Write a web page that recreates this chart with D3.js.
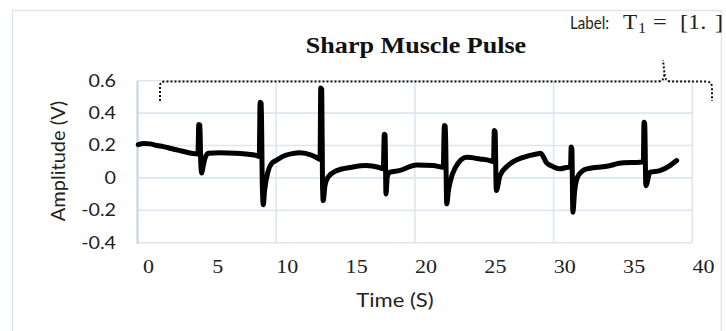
<!DOCTYPE html>
<html>
<head>
<meta charset="utf-8">
<script src="https://cdn.jsdelivr.net/npm/d3@7"></script>
<style>
  html, body { margin: 0; padding: 0; background: #fff; }
  svg { display: block; }
</style>
</head>
<body>
<svg id="chart" width="726" height="331"></svg>
<script>
const svg = d3.select("#chart");

// EMG trace, seconds / volts
const timeS = [
  -0.70, -0.30, 0.14, 0.65, 1.10, 1.73, 2.31, 2.81, 3.26, 3.60,
  3.66, 3.74, 3.80, 3.87, 3.97, 4.12, 4.35, 5.19, 6.27, 7.21, 7.83,
  8.02, 8.08, 8.16, 8.24, 8.31, 8.40, 8.67, 8.92, 9.28, 9.87, 10.40, 10.95, 11.80, 12.27, 12.40,
  12.45, 12.52, 12.58, 12.63, 12.75, 12.99, 13.60, 14.70, 15.70, 16.60, 16.96,
  17.03, 17.09, 17.15, 17.25, 17.44, 18.10, 19.37, 20.56, 21.28,
  21.36, 21.43, 21.53, 21.65, 21.77, 22.13, 22.97, 23.93, 24.65, 24.90,
  24.96, 25.02, 25.10, 25.37, 26.09, 27.05, 28.01, 28.30, 28.73, 29.19, 29.69, 30.29, 30.45,
  30.50, 30.55, 30.62, 30.75, 31.01, 31.62, 33.06, 34.26, 35.46, 35.70,
  35.75, 35.80, 35.88, 36.18, 36.90, 37.62, 38.10
];
const amplitudeV = [
  0.205, 0.212, 0.210, 0.200, 0.193, 0.180, 0.168, 0.158, 0.150, 0.148,
  0.330, 0.325, 0.100, 0.030, 0.070, 0.125, 0.152, 0.155, 0.152, 0.146, 0.138,
  0.132, 0.467, 0.460, -0.050, -0.165, -0.080, 0.045, 0.090, 0.110, 0.138, 0.150, 0.155, 0.140, 0.120, 0.115,
  0.555, 0.548, -0.050, -0.140, -0.050, 0.006, 0.045, 0.066, 0.076, 0.066, 0.056,
  0.270, 0.265, -0.100, 0.010, 0.035, 0.045, 0.080, 0.076, 0.066,
  0.323, 0.318, -0.160, -0.080, -0.027, 0.060, 0.127, 0.117, 0.107, 0.100,
  0.292, 0.285, -0.078, 0.014, 0.086, 0.127, 0.148, 0.152, 0.093, 0.070, 0.056, 0.066, 0.065,
  0.190, 0.180, -0.212, -0.080, 0.014, 0.056, 0.072, 0.093, 0.096, 0.100,
  0.343, 0.335, -0.048, 0.035, 0.045, 0.076, 0.107
];
const xTicks = [0, 5, 10, 15, 20, 25, 30, 35, 40];
const yTicks = [-0.4, -0.2, 0, 0.2, 0.4, 0.6];
const yTickText = ["-0.4", "-0.2", "0", "0.2", "0.4", "0.6"];

const trace = timeS.map((t, i) => ({ t, v: amplitudeV[i] }));

// plot box
const plotLeft = 137.5, plotRight = 692.3, plotTop = 80.7, plotBottom = 242.7;
const stretch = 1.16; // text is drawn a little wide
const sansFont = "Lato, 'Open Sans', sans-serif";
const serifFont = "'Liberation Serif', 'DejaVu Serif', serif";

const x = d3.scaleLinear().domain([0, 40]).range([148, 703]);
const y = d3.scaleLinear().domain([-0.4, 0.6]).range([plotBottom, plotTop]);
const gridX = d3.scaleLinear().domain([0, 4]).range([plotLeft, plotRight]);

// outer chart frame
svg.append("rect")
    .attr("x", 12.5).attr("y", 10.5)
    .attr("width", 709).attr("height", 340)
    .attr("fill", "#fff")
    .attr("stroke", "#dfe5ec")
    .attr("stroke-width", 1.5);

// gridlines
svg.append("g")
    .selectAll("line")
    .data(yTicks)
    .join("line")
    .attr("x1", plotLeft).attr("x2", plotRight)
    .attr("y1", d => y(d)).attr("y2", d => y(d))
    .attr("stroke", "#dde5ee")
    .attr("stroke-width", 1.6);

svg.append("g")
    .selectAll("line")
    .data(d3.range(1, 5))
    .join("line")
    .attr("x1", d => gridX(d)).attr("x2", d => gridX(d))
    .attr("y1", plotTop).attr("y2", plotBottom)
    .attr("stroke", "#dde5ee")
    .attr("stroke-width", 1.6);

// left axis line
svg.append("line")
    .attr("x1", plotLeft).attr("x2", plotLeft)
    .attr("y1", plotTop).attr("y2", plotBottom + 1)
    .attr("stroke", "#c8d5e4")
    .attr("stroke-width", 2.2);

// y tick labels
const yAxis = svg.append("g")
    .attr("transform", "translate(116,0)")
    .call(d3.axisLeft(y).tickValues(yTicks).tickSize(0).tickPadding(0)
        .tickFormat((d, i) => yTickText[i]));
yAxis.select(".domain").remove();
yAxis.selectAll("text")
    .attr("font-family", sansFont)
    .attr("font-size", 17)
    .attr("fill", "#222")
    .attr("transform", `scale(${stretch},1)`);

// x tick labels
const xAxis = svg.append("g")
    .attr("transform", `translate(0,${plotBottom})`)
    .call(d3.axisBottom(x).tickValues(xTicks).tickSize(0).tickPadding(17));
xAxis.select(".domain").remove();
xAxis.selectAll("text")
    .attr("font-family", serifFont)
    .attr("font-size", 19)
    .attr("fill", "#222")
    .attr("transform", `scale(${stretch},1)`)
    .attr("x", 0);

// signal
const line = d3.line()
    .x(d => x(d.t))
    .y(d => y(d.v))
    .curve(d3.curveMonotoneX);

svg.append("path")
    .datum(trace)
    .attr("d", line)
    .attr("fill", "none")
    .attr("stroke", "#000")
    .attr("stroke-width", 5)
    .attr("stroke-linejoin", "round")
    .attr("stroke-linecap", "round");

// titles
svg.append("text")
    .attr("transform", `translate(416,53) scale(${stretch},1)`)
    .attr("text-anchor", "middle")
    .attr("font-family", serifFont)
    .attr("font-weight", "bold")
    .attr("font-size", 22.5)
    .attr("fill", "#111")
    .text("Sharp Muscle Pulse");

svg.append("text")
    .attr("transform", `translate(65,161) rotate(-90)`)
    .attr("text-anchor", "middle")
    .attr("font-family", sansFont)
    .attr("font-size", 20)
    .attr("fill", "#222")
    .text("Amplitude (V)");

svg.append("text")
    .attr("transform", `translate(395,307) scale(${stretch},1)`)
    .attr("text-anchor", "middle")
    .attr("font-family", sansFont)
    .attr("font-size", 19)
    .attr("fill", "#222")
    .text("Time (S)");

// bracket over the trace with its label
svg.append("path")
    .attr("d", "M160,101 L160,86 Q160,81.5 165,81.5 L658,81.5 Q664,81.5 664.5,74 L663,60 M664.5,74 Q665,81.5 671,81.5 L706,81.5 Q712,81.5 712,88 L712,101")
    .attr("fill", "none")
    .attr("stroke", "#111")
    .attr("stroke-width", 2)
    .attr("stroke-dasharray", "2,2");

const labelParts = [
  { text: "Label:", x: 570, font: sansFont, size: 17, sx: 0.89, dy: 0 },
  { text: "T", x: 623, font: serifFont, size: 20, sx: stretch, dy: 0 },
  { text: "1", x: 638, font: serifFont, size: 14, sx: stretch, dy: 4 },
  { text: "=", x: 653, font: serifFont, size: 21, sx: stretch, dy: 0 },
  { text: "[1.", x: 680, font: serifFont, size: 21, sx: stretch, dy: 0 },
  { text: "]", x: 715, font: serifFont, size: 21, sx: stretch, dy: 0 }
];
svg.append("g")
    .selectAll("text")
    .data(labelParts)
    .join("text")
    .attr("transform", d => `translate(${d.x},${29 + d.dy}) scale(${d.sx},1)`)
    .attr("font-family", d => d.font)
    .attr("font-size", d => d.size)
    .attr("fill", "#222")
    .text(d => d.text);
</script>
</body>
</html>
